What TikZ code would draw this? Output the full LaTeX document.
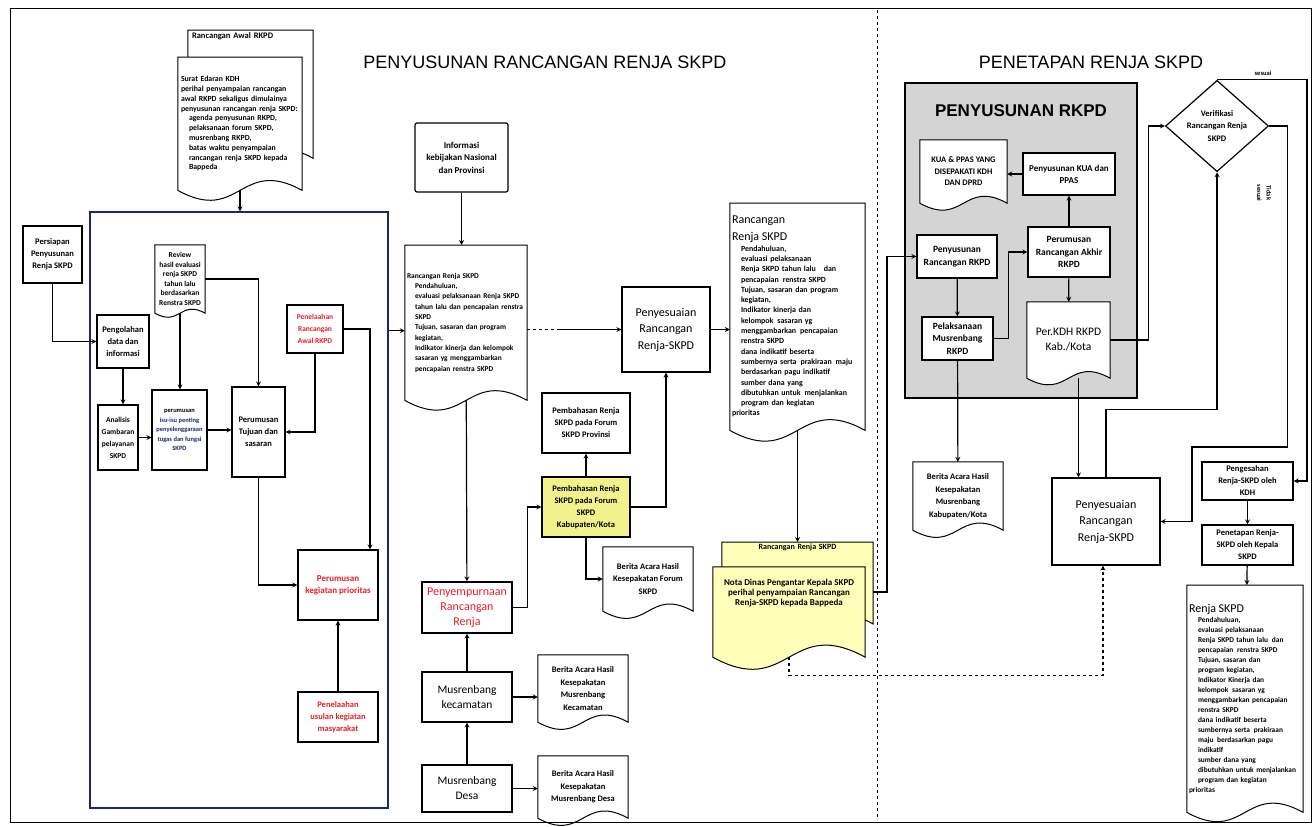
\documentclass[tikz,border=0pt]{standalone}
\usepackage{fontspec}
\setmainfont{Carlito}
\newfontfamily\headfont{Liberation Sans}
\usetikzlibrary{arrows,shapes,shapes.geometric,calc,backgrounds}

\definecolor{boxyellow}{RGB}{242,242,140}
\definecolor{docyellow}{RGB}{255,255,185}
\definecolor{rkpdgrey}{RGB}{212,212,212}
\definecolor{framenavy}{RGB}{30,35,120}
\definecolor{textred}{RGB}{230,30,40}
\definecolor{isublue}{RGB}{25,45,110}

\newcommand{\fa}{\fontsize{6.5}{9.5}\selectfont\bfseries}
\newcommand{\fl}{\fontsize{7.4}{10.3}\selectfont\bfseries}
\newcommand{\fb}{\fontsize{7.5}{12}\selectfont\bfseries}
\newcommand{\fc}{\fontsize{8.5}{12}\selectfont\bfseries}
\newcommand{\fd}{\fontsize{12}{16.5}\selectfont}

\pgfdeclarelayer{bg}
\pgfdeclarelayer{docs}
\pgfsetlayers{bg,docs,main}

\tikzstyle{aS}=[every edge/.style={draw,->,>=stealth,line width=1.2pt}]
\tikzstyle{conn}=[draw,->,>=stealth,line width=1.2pt]
\tikzstyle{hv}=[to path={-| (\tikztotarget)}]
\tikzstyle{vh}=[to path={|- (\tikztotarget)}]
\tikzstyle{proc}=[draw,line width=1.2pt,fill=white,align=center,inner sep=1pt,font=\fc]
\tikzstyle{redproc}=[proc,text=textred,font=\fb]
\tikzstyle{bigproc}=[proc,font=\fd]
\tikzstyle{doc}=[inner sep=2pt,align=center,font=\fontsize{8.5}{12.5}\selectfont\bfseries]
\tikzstyle{listdoc}=[doc,anchor=north,align=left,font=\fl]

% outline of a document symbol round a node
\newcommand{\docline}[2][white]{%
\begin{pgfonlayer}{docs}
\draw[line width=1pt,fill=#1] (#2.south west) -- (#2.north west) -- (#2.north east) -- (#2.south east)
  .. controls ($(#2.south)!.55!-90:(#2.south west)$) and ($(#2.south)!.55!90:(#2.south west)$) .. (#2.south west) -- cycle;
\end{pgfonlayer}}

\begin{document}
\begin{tikzpicture}[x=1pt,y=-1pt,aS]
\path[use as bounding box] (0,0) rectangle (1315,827);
\draw[line width=.8pt] (10,8) rectangle (1311,822);
\draw[dashed,line width=1pt] (877,10) -- (877,820);

\node[font=\headfont\fontsize{18}{20}\selectfont] (ttlA) at (545,62) {PENYUSUNAN RANCANGAN RENJA SKPD};
\node[font=\headfont\fontsize{18}{20}\selectfont] (ttlB) at (1091,62) {PENETAPAN RENJA SKPD};

\node[doc,anchor=north,minimum width=125,text width=117,text depth=118,align=left,font=\fontsize{8.5}{10}\selectfont\bfseries] (rawal) at (250.5,30) {Rancangan Awal RKPD};
\node[listdoc,minimum width=124,minimum height=133,text width=118,inner sep=1pt,font=\fontsize{7.8}{9.8}\selectfont\bfseries] (surat) at (240,57) {Surat Edaran KDH\\perihal penyampaian rancangan\\awal RKPD sekaligus dimulainya\\penyusunan rancangan renja SKPD:\\\hspace*{8pt}agenda penyusunan RKPD,\\\hspace*{8pt}pelaksanaan forum SKPD,\\\hspace*{8pt}musrenbang RKPD,\\\hspace*{8pt}batas waktu penyampaian\\\hspace*{8pt}rancangan renja SKPD kepada\\\hspace*{8pt}Bappeda};
\docline{rawal}
\docline{surat}

\node[draw=framenavy,line width=1.2pt,minimum width=298,minimum height=596] (blk) at (239,510) {};

\node[proc,minimum width=59,minimum height=57] (per) at (52.5,254.5) {Persiapan\\Penyusunan\\Renja SKPD};
\node[proc,minimum width=52,minimum height=53] (olah) at (123,341.5) {Pengolahan\\data dan\\informasi};
\node[proc,minimum width=40,minimum height=65,font=\fb] (anls) at (118,437.5) {Analisis\\Gambaran\\pelayanan\\SKPD};
\node[doc,minimum width=50,minimum height=68,inner sep=1pt,font=\fontsize{7.5}{9.5}\selectfont\bfseries] (rev) at (180,279) {Review\\hasil evaluasi\\renja SKPD\\tahun lalu\\berdasarkan\\Renstra SKPD};
\docline{rev}
\node[proc,minimum width=55,minimum height=80,font=\fa] (isu) at (179.5,430) {perumusan\\\textcolor{isublue}{isu-isu penting}\\\textcolor{isublue}{penyelenggaraan}\\\textcolor{isublue}{tugas dan fungsi}\\\textcolor{isublue}{SKPD}};
\node[proc,minimum width=53,minimum height=90] (tuj) at (258.5,432) {Perumusan\\Tujuan dan\\sasaran};
\node[redproc,minimum width=56,minimum height=48] (telaah) at (315,329) {Penelaahan\\Rancangan\\Awal RKPD};
\node[redproc,minimum width=80,minimum height=70,font=\fontsize{9}{12}\selectfont\bfseries] (keg) at (338,585) {Perumusan\\kegiatan prioritas};
\node[redproc,minimum width=80,minimum height=50,font=\fc] (usul) at (338,717) {Penelaahan\\usulan kegiatan\\masyarakat};

\node[proc,rounded corners=2pt,minimum width=93,minimum height=69,font=\fontsize{9}{12.5}\selectfont\bfseries] (info) at (461.5,157.5) {Informasi\\kebijakan Nasional\\dan Provinsi};
\node[listdoc,minimum width=122,minimum height=155,text width=118,inner sep=1pt] (rrs) at (466,245) {Rancangan Renja SKPD\\\hspace*{8pt}Pendahuluan,\\\hspace*{8pt}evaluasi pelaksanaan Renja SKPD\\\hspace*{8pt}tahun lalu dan pencapaian renstra\\\hspace*{8pt}SKPD\\\hspace*{8pt}Tujuan, sasaran dan program\\\hspace*{8pt}kegiatan,\\\hspace*{8pt}Indikator kinerja dan kelompok\\\hspace*{8pt}sasaran yg menggambarkan\\\hspace*{8pt}pencapaian renstra SKPD};
\docline{rrs}
\coordinate (rin) at ([yshift=-8pt]rrs.west);
\coordinate (dd) at (560,329.5);

\node[bigproc,minimum width=88,minimum height=85] (peny1) at (666,329.5) {Penyesuaian\\Rancangan\\Renja-SKPD};
\node[proc,minimum width=88,minimum height=60] (prov) at (586,423) {Pembahasan Renja\\SKPD pada Forum\\SKPD Provinsi};
\node[proc,fill=boxyellow,minimum width=88,minimum height=60] (kab) at (586,507) {Pembahasan Renja\\SKPD pada Forum\\SKPD\\Kabupaten/Kota};
\node[doc,minimum width=90,minimum height=64] (bafor) at (648,579) {Berita Acara Hasil\\Kesepakatan Forum\\SKPD};
\docline{bafor}
\node[redproc,minimum width=90,minimum height=51,font=\fontsize{12}{15}\selectfont] (penymp) at (467,607.5) {Penyempurnaan\\Rancangan\\Renja};
\node[bigproc,minimum width=90,minimum height=50,font=\fontsize{11.5}{15}\selectfont] (kec) at (467,697) {Musrenbang\\kecamatan};
\node[bigproc,minimum width=90,minimum height=47,font=\fontsize{11.5}{15}\selectfont] (desa) at (467,788.5) {Musrenbang\\Desa};
\node[doc,minimum width=90,minimum height=67] (bakec) at (583,688.5) {Berita Acara Hasil\\Kesepakatan\\Musrenbang\\Kecamatan};
\node[doc,minimum width=90,minimum height=62] (badesa) at (583,787) {Berita Acara Hasil\\Kesepakatan\\Musrenbang Desa};
\docline{bakec}
\docline{badesa}

\node[listdoc,minimum width=135,minimum height=227,text width=131,inner sep=1pt,font=\fontsize{7.9}{10.3}\selectfont\bfseries] (rr2) at (797.5,203) {{\fontsize{12}{17}\selectfont\mdseries Rancangan\\Renja SKPD\par}\leftskip=9pt
Pendahuluan,\\evaluasi pelaksanaan\\Renja SKPD tahun lalu\quad dan\\pencapaian\enspace renstra SKPD\\Tujuan, sasaran dan program\\kegiatan,\\Indikator kinerja dan\\kelompok\enspace sasaran yg\\menggambarkan\enspace pencapaian\\renstra SKPD\\dana indikatif beserta\\sumbernya serta\enspace prakiraan\enspace maju\\berdasarkan pagu indikatif\\sumber dana yang\\dibutuhkan untuk\enspace menjalankan\\program dan kegiatan\\prioritas};
\docline{rr2}
\node[doc,anchor=north,minimum width=151,text width=145,text depth=72,font=\fontsize{8}{10}\selectfont\bfseries] (yb) at (797.5,542) {Rancangan Renja SKPD};
\node[doc,minimum width=152,minimum height=90,text depth=40,font=\fontsize{9}{10}\selectfont\bfseries] (yf) at (789,612) {Nota Dinas Pengantar Kepala SKPD\\perihal penyampaian Rancangan\\Renja-SKPD kepada Bappeda};
\docline[docyellow]{yb}
\docline[docyellow]{yf}
\coordinate (c1) at (887,592);

\begin{pgfonlayer}{bg}
\node[draw,line width=1.2pt,fill=rkpdgrey,minimum width=232,minimum height=315] (rkpd) at (1021,240.5) {};
\end{pgfonlayer}
\node[font=\headfont\bfseries\fontsize{17}{20}\selectfont] (rkpdttl) at (1021,111) {PENYUSUNAN RKPD};
\node[doc,minimum width=87,minimum height=63,font=\fontsize{8.5}{11.5}\selectfont\bfseries] (kua) at (963.5,171.5) {KUA \& PPAS YANG\\DISEPAKATI KDH\\DAN DPRD};
\docline{kua}
\node[proc,minimum width=92,minimum height=42,font=\fontsize{9}{12}\selectfont\bfseries] (pkua) at (1069,174) {Penyusunan KUA dan\\PPAS};
\node[proc,minimum width=82,minimum height=50,font=\fontsize{9.5}{12.5}\selectfont\bfseries] (akhir) at (1069,252) {Perumusan\\Rancangan Akhir\\RKPD};
\node[proc,minimum width=80,minimum height=43,font=\fontsize{9.5}{13}\selectfont\bfseries] (rkpd1) at (957,256.5) {Penyusunan\\Rancangan RKPD};
\node[proc,minimum width=71,minimum height=43,font=\fontsize{9.5}{12.5}\selectfont\bfseries] (musrk) at (957.5,338.5) {Pelaksanaan\\Musrenbang\\RKPD};
\node[doc,minimum width=83,minimum height=76,font=\fontsize{11.5}{15}\selectfont] (perkdh) at (1068.5,340) {Per.KDH RKPD\\Kab./Kota};
\docline{perkdh}
\node[doc,minimum width=90,minimum height=68] (baskab) at (958,496) {Berita Acara Hasil\\Kesepakatan\\Musrenbang\\Kabupaten/Kota};
\docline{baskab}
\node[bigproc,minimum width=108,minimum height=87] (peny2) at (1106,521.5) {Penyesuaian\\Rancangan\\Renja-SKPD};
\node[draw,diamond,line width=1.2pt,fill=white,minimum width=103,minimum height=85,inner sep=0pt,align=center,font=\fontsize{8.5}{12.5}\selectfont\bfseries] (ver) at (1217,126) {Verifikasi\\Rancangan Renja\\SKPD};
\node[font=\fa] (lsesuai) at (1263,73) {sesuai};
\node[font=\fa,rotate=-90,align=center] (ltidak) at (1264,193) {Tidak\\sesuai};
\coordinate (c4) at (1192,447);
\node[proc,minimum width=91,minimum height=38] (sah) at (1247.5,481) {Pengesahan\\Renja-SKPD oleh\\KDH};
\node[proc,minimum width=91,minimum height=40] (tetap) at (1247.5,545) {Penetapan Renja-\\SKPD oleh Kepala\\SKPD};
\node[listdoc,minimum width=116,minimum height=227,text width=112,inner sep=1pt,font=\fontsize{7.4}{10}\selectfont\bfseries] (renja) at (1245,585) {{\fontsize{12}{15}\selectfont\mdseries Renja SKPD\par}\leftskip=9pt
Pendahuluan,\\evaluasi pelaksanaan\\Renja SKPD tahun lalu\enspace dan\\pencapaian\enspace renstra SKPD\\Tujuan, sasaran dan\\program kegiatan,\\Indikator Kinerja dan\\kelompok\enspace sasaran yg\\menggambarkan pencapaian\\renstra SKPD\\dana indikatif beserta\\sumbernya serta\enspace prakiraan\\maju\enspace berdasarkan pagu\\indikatif\\sumber dana yang\\dibutuhkan untuk menjalankan\\program dan kegiatan\\prioritas};
\docline{renja}

\path
(surat.south) edge (surat.south |- blk.north)
(per) edge[vh] (olah)
(olah.south) edge (olah.south |- anls.north)
(anls.east) edge (anls.east -| isu.west)
(isu.east) edge (isu.east -| tuj.west)
(rev.south) edge (rev.south |- isu.north)
(rev.east) edge[hv] (tuj.north)
(telaah) edge[vh] (tuj.east)
(telaah.east) edge[hv] ([xshift=32pt]keg.north)
(tuj) edge[vh] (keg)
(usul) edge (keg)
;
\path
(blk.east |- rin) edge (rin)
(info) edge (info |- rrs.north)
(dd) edge (peny1)
(rrs) edge (penymp)
(kec) edge (penymp) (desa) edge (kec)
(kec.east) edge (kec.east -| bakec.west)
(desa.east) edge (desa.east -| badesa.west)
(kab) edge (prov)
(kab) edge[hv] (peny1)
(kab) edge[vh] (bafor)
(peny1.east) edge (peny1.east -| rr2.west)
(rr2.south) edge (rr2.south |- yb.north)
;
\draw[dashed,line width=1.2pt] (rrs.east |- peny1.west) -- (dd);
\draw[conn] (penymp.east) -- ++(15,0) |- (kab.west);
\draw[conn] (yb.east |- c1) -- (c1) |- (rkpd1.west);
\draw[conn,dashed] (yf.south) -- ++(0,18) -| ([xshift=-3pt]peny2.south);
\path
(pkua.west) edge (pkua.west -| kua.east)
(akhir) edge (pkua)
(rkpd1) edge (musrk)
(akhir) edge (perkdh)
(musrk) edge (baskab)
([xshift=10pt]perkdh.south) edge ([xshift=10pt]perkdh.south |- peny2.north)
(sah) edge (tetap) (tetap) edge (renja)
;
\draw[conn] (musrk.east) -- ++(15,0) |- (akhir.west);
\draw[conn] (perkdh.east) -- ++(38,0) |- (ver.west);
\draw[conn] (peny2.north) -- ++(0,-68) -| (ver.south);
\draw[conn] (ver.north) -- ++(90,0) |- (sah.east);
\draw[conn] (ver.east) -- ++(18,0) |- (c4) |- (peny2.east);

\end{tikzpicture}
\end{document}
